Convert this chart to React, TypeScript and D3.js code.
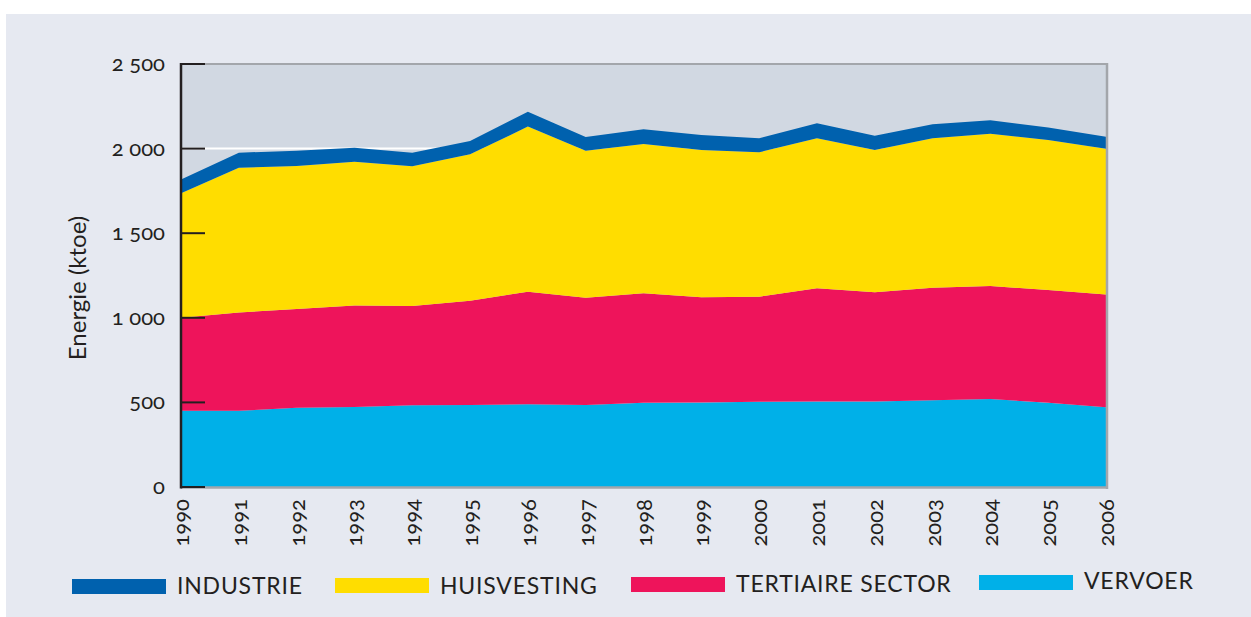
import React from "react";
import * as d3 from "d3";

// Energieverbruik per sector (ktoe), 1990-2006
const years = [1990, 1991, 1992, 1993, 1994, 1995, 1996, 1997, 1998, 1999, 2000, 2001, 2002, 2003, 2004, 2005, 2006];
const vervoer = [450, 450, 469, 473, 483, 485, 489, 485, 498, 500, 504, 506, 506, 512, 520, 498, 471];
const tertiaire = [550, 582, 583, 599, 587, 616, 665, 634, 647, 621, 621, 668, 645, 666, 668, 666, 666];
const huisvesting = [736, 855, 845, 851, 825, 865, 976, 869, 882, 871, 853, 887, 841, 883, 900, 887, 862];
const industrie = [82, 89, 91, 82, 81, 79, 88, 81, 87, 88, 83, 89, 84, 83, 79, 73, 71];
const yTicks = [0, 500, 1000, 1500, 2000, 2500];

const keys = ["vervoer", "tertiaire", "huisvesting", "industrie"];
const colors: Record<string, string> = {
  industrie: "#0061ae",
  huisvesting: "#ffdd00",
  tertiaire: "#ee145b",
  vervoer: "#00b0e8",
};
const legend = [
  { key: "industrie", label: "INDUSTRIE", x: 72, y: 579, ty: 594 },
  { key: "huisvesting", label: "HUISVESTING", x: 335, y: 578, ty: 594 },
  { key: "tertiaire", label: "TERTIAIRE SECTOR", x: 631, y: 577, ty: 592 },
  { key: "vervoer", label: "VERVOER", x: 979, y: 575, ty: 589 },
];

const left = 181;
const right = 1107;
const top = 64;
const bottom = 487;
const textColor = "#231f20";
const font = "Lato, 'Open Sans', sans-serif";

function fmt(v: number) {
  return d3.format(",")(v).replace(",", " ");
}

export default function App() {
  const rows = years.map((y, i) => ({
    year: y,
    vervoer: vervoer[i],
    tertiaire: tertiaire[i],
    huisvesting: huisvesting[i],
    industrie: industrie[i],
  }));
  const series = d3.stack<any>().keys(keys)(rows);

  const x = d3.scaleLinear().domain([1990, 2006]).range([left, right - 1]);
  const y = d3.scaleLinear().domain([0, 2500]).range([bottom, top]);

  const area = d3
    .area<any>()
    .x((d) => x(d.data.year))
    .y0((d) => y(d[0]))
    .y1((d) => y(d[1]));

  return (
    <svg
      width={1251}
      height={617}
      style={{ position: "absolute", left: 0, top: 0, fontFamily: font, fontVariantNumeric: "oldstyle-nums" }}
    >
      <rect x={0} y={0} width={1251} height={617} fill="#ffffff" />
      <rect x={6} y={14} width={1245} height={603} fill="#e6e9f1" />
      <rect x={left} y={top} width={right - left} height={bottom - top} fill="#d1d8e2" />

      {yTicks.slice(1, -1).map((t) => (
        <line key={t} x1={left} x2={right + 1} y1={y(t)} y2={y(t)} stroke="#ffffff" strokeWidth={2} />
      ))}

      {series.map((s) => (
        <path key={s.key} d={area(s) || ""} fill={colors[s.key]} />
      ))}

      {/* frame */}
      <line x1={left} x2={right + 1} y1={top} y2={top} stroke="#a3a6ab" strokeWidth={2} />
      <line x1={left} x2={right + 1} y1={bottom + 0.5} y2={bottom + 0.5} stroke="#a3a6ab" strokeWidth={2.5} />
      <line x1={right} x2={right} y1={top - 1} y2={bottom + 2} stroke="#a3a6ab" strokeWidth={2.5} />
      <line x1={left} x2={left} y1={top - 1} y2={bottom + 1.5} stroke={textColor} strokeWidth={2.5} />

      {yTicks.map((t) => (
        <g key={t}>
          <line x1={left} x2={left + 24} y1={y(t)} y2={y(t)} stroke={textColor} strokeWidth={2} />
          <text x={165} y={y(t) + 7} textAnchor="end" fontSize={22} fill={textColor}>
            {fmt(t)}
          </text>
        </g>
      ))}

      {years.map((yr) => (
        <text
          key={yr}
          transform={`translate(${x(yr) + 8},499) rotate(-90)`}
          textAnchor="end"
          fontSize={22}
          fill={textColor}
        >
          {yr}
        </text>
      ))}

      <text transform="translate(86,288) rotate(-90)" textAnchor="middle" fontSize={24} fill={textColor}>
        Energie (ktoe)
      </text>

      {legend.map((l) => (
        <g key={l.key}>
          <rect x={l.x} y={l.y} width={94} height={15} fill={colors[l.key]} />
          <text x={l.x + 105} y={l.ty} fontSize={23} letterSpacing={0.8} fill={textColor}>
            {l.label}
          </text>
        </g>
      ))}
    </svg>
  );
}
